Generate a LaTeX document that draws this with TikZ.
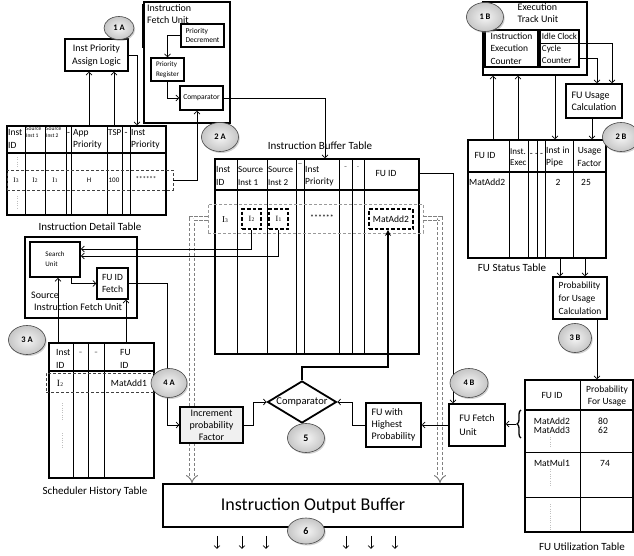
\documentclass[tikz,border=0pt]{standalone}
\usepackage{fontspec}
\setmainfont{Carlito}
\newfontfamily\instfont{Liberation Serif}
\usepackage{tikz}
\usetikzlibrary{arrows.meta, positioning, shapes.geometric, shadows, decorations.pathreplacing}

\newcommand{\inum}[1]{{\instfont I\kern0.2pt{\fontsize{5.5}{6}\selectfont #1}}}

\begin{document}
\begin{tikzpicture}[x=1pt, y=-1pt, >={Straight Barb[length=2.8pt,width=6pt]},
		every node/.style={inner sep=0pt, font=\fontsize{9.5}{12.5}\selectfont},
		unit/.style={rectangle, draw, line width=1.6pt, align=left, fill=white},
		tbl/.style={rectangle, draw, line width=1.6pt},
		col/.style={line width=0.8pt},
		cell/.style={font=\fontsize{7}{8}\selectfont},
		rowmark/.style={rectangle, draw=black!75, line width=0.7pt, dash pattern=on 3pt off 2pt},
		pick/.style={rectangle, draw, line width=1.4pt, dash pattern=on 3.5pt off 2pt},
		dots/.style={draw=gray!50, line width=0.8pt, dash pattern=on 0.8pt off 1.5pt},
		badge/.style={ellipse, draw=gray!55!black, line width=0.6pt, inner color=gray!8, outer color=gray!45, minimum width=37pt, minimum height=29pt, font=\fontsize{8.5}{9}\selectfont\bfseries, drop shadow={shadow xshift=1.2pt, shadow yshift=-1.5pt, opacity=0.35}},
		caption/.style={font=\fontsize{11}{13}\selectfont},
		link/.style={->, line width=0.7pt},
		hollow/.style={draw=black!50, double=white, double distance=3.2pt, line width=1pt, dash pattern=on 3.5pt off 1.5pt, -{Implies}}]
		
		\useasboundingbox (0,0) rectangle (634,556);
		\fill[white] (0,0) rectangle (634,556);
		
		% Instruction Detail Table
		\node[tbl, minimum width=159pt, minimum height=89pt] (idt) at (86.5,170.5) {};
		\draw[line width=1.2pt] (idt.west |- 0,153) -- (idt.east |- 0,153);
		\foreach \x in {25,45,66,71,107,122,130}
			\draw[col] (\x,0 |- idt.north) -- (\x,0 |- idt.south);
		\node[align=left, anchor=west] (idth1) at (8,139) {Inst\\ID};
		\node[align=left, anchor=west, font=\fontsize{5.5}{7}\selectfont] (idth2) at (26,132) {Source\\Inst 1};
		\node[align=left, anchor=west, font=\fontsize{5.5}{7}\selectfont] (idth3) at (46,132) {Source\\Inst 2};
		\node (idth4) at (68.5,134) {-};
		\node[align=left, anchor=west] (idth5) at (73,139) {App\\Priority};
		\node[anchor=west, font=\fontsize{9}{11}\selectfont] (idth6) at (108,133) {TSP};
		\node (idth7) at (126,134) {-};
		\node[align=left, anchor=west] (idth8) at (131,139) {Inst\\Priority};
		\node[rowmark, minimum width=166pt, minimum height=20pt] (idtrow) at (90,180) {};
		\node[cell] (idtr1) at (16,180) {\inum{3}};
		\node[cell] (idtr2) at (35,180) {\inum{2}};
		\node[cell] (idtr3) at (55,180) {\inum{1}};
		\node[cell] (idtr4) at (89,180) {H};
		\node[cell] (idtr5) at (114,180) {100};
		\node[cell] (idtr6) at (146,179) {******};
		\draw[dots] (17,157) -- (17,167) (17,196) -- (17,208);
		\node[caption] (idtcap) at (90,227) {Instruction Detail Table};
		
		% Instruction Buffer Table
		\node[caption] (ibtcap) at (320,146) {Instruction Buffer Table};
		\node[tbl, minimum width=204pt, minimum height=195pt] (ibt) at (317,256.5) {};
		\draw[line width=1.2pt] (ibt.west |- 0,190) -- (ibt.east |- 0,190);
		\foreach \x in {237,267,296,304,339,352,364}
			\draw[col] (\x,0 |- ibt.north) -- (\x,0 |- ibt.south);
		\node[align=left, anchor=west] (ibth1) at (216,176) {Inst\\ID};
		\node[align=left, anchor=west, font=\fontsize{9}{12.5}\selectfont] (ibth2) at (238,176) {Source\\Inst 1};
		\node[align=left, anchor=west, font=\fontsize{9}{12.5}\selectfont] (ibth3) at (268,176) {Source\\Inst 2};
		\node[font=\fontsize{7}{8}\selectfont] (ibth4) at (300,164) {\_};
		\node[align=left, anchor=west] (ibth5) at (305,176) {Inst\\Priority};
		\node[font=\fontsize{6}{7}\selectfont] (ibth6) at (345.5,168) {--};
		\node[font=\fontsize{6}{7}\selectfont] (ibth7) at (358,168) {-};
		\node (ibth8) at (386,173) {FU ID};
		\node[rowmark, draw=gray!80, minimum width=215pt, minimum height=29pt] (ibtrow) at (315.5,218.5) {};
		\node[font=\fontsize{9}{10}\selectfont] (ibtr1) at (225,220) {\inum{3}};
		\node[pick, minimum width=19pt, minimum height=20pt, font=\fontsize{8}{9}\selectfont] (srci2) at (251.5,219) {\inum{2}};
		\node[pick, minimum width=19pt, minimum height=20pt, font=\fontsize{8}{9}\selectfont] (srci1) at (278.5,219) {\inum{1}};
		\node[font=\fontsize{8}{9}\selectfont] (ibtr4) at (322,218) {******};
		\node[pick, line width=1.8pt, minimum width=44pt, minimum height=20pt] (fuid) at (391,219) {MatAdd2};
		
		% Scheduler History Table
		\node[tbl, minimum width=105pt, minimum height=135pt] (sht) at (101.5,410.5) {};
		\draw[line width=1.2pt] (sht.west |- 0,371) -- (sht.east |- 0,371);
		\foreach \x in {73,88,104}
			\draw[col] (\x,0 |- sht.north) -- (\x,0 |- sht.south);
		\node[align=left, anchor=west] (shth1) at (56,359) {Inst\\ID};
		\node[font=\fontsize{7}{8}\selectfont] (shth2) at (80.5,353) {--};
		\node[font=\fontsize{7}{8}\selectfont] (shth3) at (96,353) {--};
		\node[align=left, anchor=west] (shth4) at (120,359) {FU\\ID};
		\node[rowmark, minimum width=108pt, minimum height=19pt] (shtrow) at (100,382.5) {};
		\node (shtr1) at (60,383) {\inum{2}};
		\node (shtr2) at (129,383) {MatAdd1};
		\draw[dots] (62,403) -- (62,420) (62,433) -- (62,448);
		\node[caption] (shtcap) at (95,492) {Scheduler History Table};
		
		% FU Status Table
		\node[tbl, minimum width=138pt, minimum height=118pt] (fst) at (537,199) {};
		\draw[line width=1.2pt] (fst.west |- 0,172) -- (fst.east |- 0,172);
		\foreach \x in {509,528,537,545,573}
			\draw[col] (\x,0 |- fst.north) -- (\x,0 |- fst.south);
		\node (fsth1) at (485,155) {FU ID};
		\node[align=left, anchor=west, font=\fontsize{9}{11.5}\selectfont] (fsth2) at (510,157) {Inst.\\Exec};
		\node (fsth3) at (536.5,155) {- - -};
		\node[align=left, anchor=west] (fsth4) at (546,157) {Inst in\\Pipe};
		\node[align=center] (fsth5) at (589.5,157) {Usage\\Factor};
		\node[anchor=west] (fstr1) at (469,182) {MatAdd2};
		\node (fstr2) at (558,182) {2};
		\node (fstr3) at (586,182) {25};
		\node[caption] (fstcap) at (512,268) {FU Status Table};
		
		% FU Utilization Table
		\node[tbl, minimum width=108pt, minimum height=152pt] (fut) at (579,456) {};
		\draw[line width=1.2pt] (fut.west |- 0,410) -- (fut.east |- 0,410);
		\draw[col] (fut.west |- 0,452) -- (fut.east |- 0,452) (fut.west |- 0,497) -- (fut.east |- 0,497);
		\draw[col] (580,0 |- fut.north) -- (580,0 |- fut.south);
		\node (futh1) at (552,395) {FU ID};
		\node[align=center] (futh2) at (607,396) {Probability\\For Usage};
		\node (futr1) at (552,421) {MatAdd2};
		\node (futr2) at (603,421) {80};
		\node (futr3) at (552,430) {MatAdd3};
		\node (futr4) at (603,430) {62};
		\node (futr5) at (552,463) {MatMul1};
		\node (futr6) at (605,463) {74};
		\draw[dots] (550,437) -- (550,448) (550,469) -- (550,487) (550,504) -- (550,530);
		\node[caption] (futcap) at (582,547) {FU Utilization Table};
		
		% Dashed paths to output buffer
		\node[unit, minimum width=300pt, minimum height=43pt, font=\fontsize{18}{20}\selectfont, align=center] (iob) at (313,505.5) {Instruction Output Buffer};
		\draw[hollow] (ibtrow.west) -| (192,0 |- iob.north);
		\draw[hollow] (ibtrow.east) -| (440,0 |- iob.north);
		
		% Instruction Fetch Unit
		\node[unit, minimum width=86pt, minimum height=121pt] (ifu) at (187,62.5) {};
		\draw[line width=3.2pt] (ifu.north west) ++(0,3) -- ++(0,44);
		\node[anchor=north west, align=left, font=\fontsize{10}{12.5}\selectfont] (ifutitle) at (147,4) {Instruction\\Fetch Unit};
		\node[unit, minimum width=43pt, minimum height=23pt, font=\fontsize{7.5}{9.5}\selectfont] (pdec) at (202.5,35.5) {Priority\\Decrement};
		\node[unit, minimum width=33pt, minimum height=23pt, font=\fontsize{7}{9.5}\selectfont] (preg) at (167.5,69.5) {Priority\\Register};
		\node[unit, minimum width=43pt, minimum height=24pt, font=\fontsize{7.5}{9}\selectfont] (pcmp) at (201.5,98) {Comparator};
		
		% Inst Priority Assign Logic
		\node[unit, align=center, minimum width=63pt, minimum height=32pt, font=\fontsize{10}{13}\selectfont] (ipal) at (96.5,55) {Inst Priority\\Assign Logic};
		
		% Execution Track Unit
		\node[unit, minimum width=104pt, minimum height=73pt] (etu) at (535,38.5) {};
		\node[align=left, font=\fontsize{10}{12}\selectfont] (etutitle) at (538,13) {Execution\\Track Unit};
		\node[unit, minimum width=53pt, minimum height=37pt, font=\fontsize{9.5}{12.3}\selectfont] (iec) at (511.5,48.5) {Instruction\\Execution\\Counter};
		\node[unit, minimum width=39pt, minimum height=37pt, font=\fontsize{9}{12.3}\selectfont] (icc) at (559.5,48.5) {Idle Clock\\Cycle\\Counter};
		\node[unit, minimum width=56pt, minimum height=34pt, font=\fontsize{10}{12}\selectfont] (fuuc) at (594,101) {FU Usage\\Calculation};
		\node[unit, minimum width=54pt, minimum height=42pt, font=\fontsize{9.5}{13}\selectfont] (pfuc) at (580,298) {Probability\\for Usage\\Calculation};
		
		% Source Instruction Fetch Unit
		\node[unit, minimum width=112pt, minimum height=81pt] (sifu) at (81,277.5) {};
		\node[anchor=north west, align=left, font=\fontsize{10}{12}\selectfont] (sifutitle) at (31,292) {Source\\\hspace*{3pt}Instruction Fetch Unit};
		\node[unit, line width=2pt, minimum width=50pt, minimum height=35pt, font=\fontsize{7}{10}\selectfont] (srch) at (55,259.5) {Search\\Unit};
		\node[unit, minimum width=31pt, minimum height=31pt, font=\fontsize{9.5}{11.5}\selectfont] (fuidf) at (112.5,283.5) {FU ID\\Fetch};
		
		% Selection
		\node[unit, fill=gray!12, line width=1.3pt, align=center, minimum width=63pt, minimum height=36pt, font=\fontsize{10}{12}\selectfont] (incp) at (211.5,425) {Increment\\probability\\Factor};
		\node[unit, minimum width=55pt, minimum height=44pt, font=\fontsize{10}{12}\selectfont] (fuhp) at (393.5,425) {FU with\\Highest\\Probability};
		\node[unit, minimum width=56pt, minimum height=42pt, font=\fontsize{10}{14}\selectfont] (fuf) at (477,425) {FU Fetch\\Unit};
		\node[diamond, draw, line width=1.8pt, fill=white, minimum width=69pt, minimum height=42pt] (cmp) at (302,402) {};
		\node[font=\fontsize{10.5}{12}\selectfont] (cmptxt) at (cmp.center) {Comparator};
		
		% Connectors
		\draw[link] (89,0 |- idt.north) -- (89,0 |- ipal.south);
		\draw[link] (114,0 |- idt.north) -- (114,0 |- ipal.south);
		\draw[link] (ipal.east) -| (137,0 |- idt.north);
		\draw[link] (pdec.west) -| (preg.north);
		\draw[link] (preg.south) |- (pcmp.west);
		\draw[link] (pcmp.east) -| (325,0 |- ibt.north);
		\draw[link] (idtrow.east) -| (197,0 |- pcmp.south);
		
		\draw[link] (493,0 |- fst.north) -- (493,0 |- etu.south);
		\draw[link] (518,0 |- fst.north) -- (518,0 |- etu.south);
		\draw[link] (555,0 |- etu.south) -- (555,0 |- fst.north);
		\draw[link] (iec.east |- 0,43) -| (612,0 |- fuuc.north);
		\draw[link] (icc.east |- 0,58) -| (597,0 |- fuuc.north);
		\draw[link] (592,0 |- fuuc.south) -- (592,0 |- fst.north);
		\draw[link] (560,0 |- fst.south) -- (560,0 |- pfuc.north);
		\draw[link] (585,0 |- fst.south) -- (585,0 |- pfuc.north);
		\draw[link] (597,0 |- pfuc.south) -- (597,0 |- fut.north);
		
		\draw[link] (srci2.south) |- (srch.east |- 0,249);
		\draw[link] (srci1.south) |- (srch.east |- 0,256);
		\draw[link] (71,0 |- srch.south) |- (fuidf.west);
		\draw[link] (58,0 |- sht.north) -- (58,0 |- srch.south);
		\draw[link] (126,0 |- sht.north) -- (126,0 |- fuidf.south);
		\draw[link] (fuidf.east) -| ([xshift=-12pt]incp.west) -- (incp.west);
		
		\draw[link] (ibt.east |- 0,173) -| (453,0 |- fuf.north);
		\draw[line width=1.3pt, decorate, decoration={brace, amplitude=4pt}] (521,438) -- (521,410);
		\coordinate (brtip) at (516,424);
		\draw[link] (brtip) -- (fuf.east |- brtip);
		\draw[link] (fuf.west) -- (fuhp.east);
		\draw[link] (fuhp.west) -- ++(-13,0) |- (cmp.east);
		\draw[link] (incp.east) -- ++(10,0) |- (cmp.west);
		\draw[line width=2pt, -{Stealth[length=6pt,width=6pt]}] (cmp.north) -- ++(0,-13) -| (388,0 |- fuid.south);
		
		\foreach \x in {217,242,266,346,371,395}
			\draw[link] (\x,0 |- iob.south) ++(0,8) -- ++(0,13);
		
		% Markers
		\node[badge, minimum width=30pt, minimum height=23pt] (b1a) at (119,28) {1 A};
		\node[badge] (b2a) at (220,137) {2 A};
		\node[badge] (b1b) at (485,17) {1 B};
		\node[badge] (b2b) at (621,137) {2 B};
		\node[badge] (b3a) at (27,340) {3 A};
		\node[badge, minimum width=33pt] (b3b) at (575,338) {3 B};
		\node[badge, minimum width=36pt] (b4a) at (169,383) {4 A};
		\node[badge, minimum width=38pt] (b4b) at (469,383) {4 B};
		\node[badge, font=\fontsize{10}{11}\selectfont\bfseries] (b5) at (306,438) {5};
		\node[badge, minimum height=26pt, font=\fontsize{10}{11}\selectfont\bfseries] (b6) at (306,531) {6};
		
	\end{tikzpicture}
\end{document}
